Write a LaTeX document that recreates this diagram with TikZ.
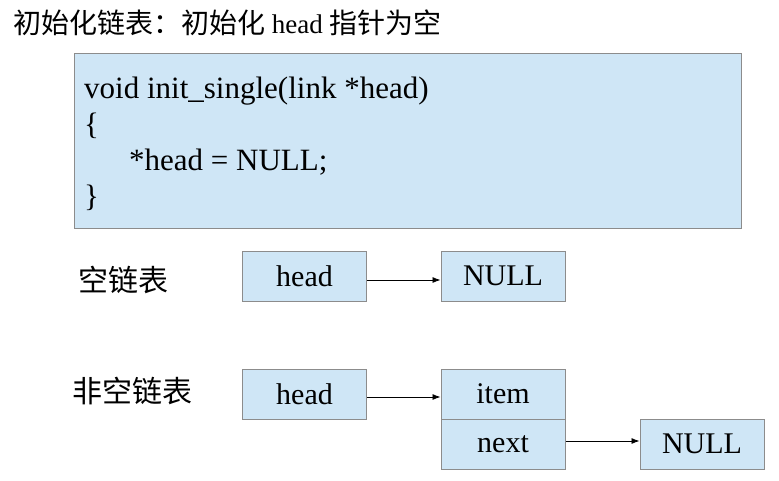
\documentclass[tikz,border=0pt]{standalone}
\usepackage{fontspec}
\setmainfont{Liberation Serif}
\newfontfamily\cjk{Noto Sans CJK SC}
\usetikzlibrary{arrows.meta}
\definecolor{boxfill}{RGB}{207,230,246}
\definecolor{boxline}{RGB}{140,140,140}
\begin{document}
\begin{tikzpicture}[x=1pt,y=-1pt,
  cell/.style={draw=boxline, fill=boxfill, line width=1pt, minimum width=124pt, minimum height=50pt, inner sep=0pt, font=\fontsize{30}{36}\selectfont},
  link/.style={-{Latex[length=8pt,width=6pt]}, line width=0.8pt, black},
  cnlabel/.style={font=\cjk\fontsize{30}{34}\selectfont, anchor=west, inner sep=0pt},
  codeline/.style={font=\fontsize{31}{36}\selectfont, anchor=base west, inner sep=0pt}]
\useasboundingbox (0,0) rectangle (779,480);
\node[anchor=base west, inner sep=0pt, font=\fontsize{27}{30}\selectfont] (title) at (13,33) {{\cjk\fontsize{28}{30}\selectfont 初始化链表：初始化}~head~{\cjk\fontsize{28}{30}\selectfont 指针为空}};
\node[draw=boxline, fill=boxfill, line width=1pt, minimum width=667pt, minimum height=175pt, inner sep=0pt, anchor=north west] (code) at (74,53) {};
\node[codeline] (c1) at (84,98) {void init\_single(link *head)};
\node[codeline] (c2) at (84,134) {\{};
\node[codeline] (c3) at (84,170) {\hspace*{45pt}*head = NULL;};
\node[codeline] (c4) at (84,206) {\}};
\node[cnlabel] (empty) at (78,280) {空链表};
\node[cnlabel] (nonempty) at (72,391) {非空链表};
\node[cell] (head1) at (304.5,276) {head};
\node[cell] (null1) at (503,276) {NULL};
\node[cell] (head2) at (304.5,394) {head};
\node[cell] (item) at (503,394) {item};
\node[cell] (next) at (503,444) {next};
\node[cell] (null2) at (702,444) {NULL};
\draw[link] ([yshift=-4pt]head1.east) -- ([yshift=-4pt]null1.west);
\draw[link] ([yshift=-3pt]head2.east) -- ([yshift=-3pt]item.west);
\draw[link] ([yshift=3pt]next.east) -- ([yshift=3pt]null2.west);
\end{tikzpicture}
\end{document}
